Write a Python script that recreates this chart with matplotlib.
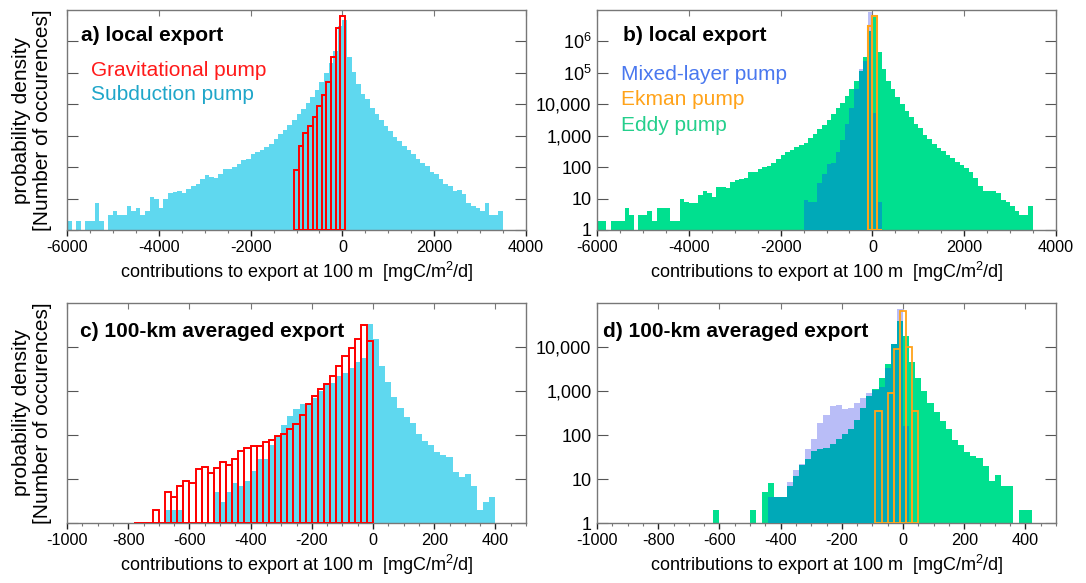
import numpy as np
import matplotlib.pyplot as plt
from matplotlib.ticker import MultipleLocator, FixedLocator, NullFormatter, NullLocator

plt.rcParams['font.family'] = ['Liberation Sans', 'DejaVu Sans']
plt.rcParams['mathtext.fontset'] = 'custom'
plt.rcParams['mathtext.rm'] = 'Liberation Sans'
plt.rcParams['mathtext.it'] = 'Liberation Sans:italic'
plt.rcParams['axes.unicode_minus'] = False

# ---- local export, 100 mgC/m2/d bins ----
local_start = -6000
local_bin = 100
subduction_local = [2, 1, 2, 1, 2, 2, 7, 2, 1, 3,
                    4, 3, 3, 6, 4, 5, 3, 4, 11, 10,
                    5, 10, 15, 16, 17, 15, 20, 26, 30, 41,
                    55, 48, 45, 62, 89, 89, 100, 130, 165, 178,
                    270, 300, 345, 440, 560, 800, 1170, 1500, 2170, 3160,
                    4800, 7100, 10700, 17000, 29000, 52000, 100000, 210000, 500000, 3000000,
                    4700000, 330000, 105000, 45000, 22000, 14500, 7800, 4900, 3160, 2000,
                    1440, 920, 690, 475, 345, 270, 186, 140, 108, 70,
                    62, 43, 30, 26, 18, 19, 14, 7, 6, 5,
                    4, 7, 3, 3, 4]
grav_local_start = -1050
gravitational_local = [79, 470, 1260, 2000, 3800, 9000, 20000, 53000, 310000, 2600000, 6300000]

eddy_local = [2, 2, 1, 2, 2, 2, 5, 3, 1, 3,
              3, 4, 2, 5, 5, 5, 2, 2, 10, 8,
              7, 7, 13, 18, 15, 11, 23, 23, 22, 33,
              40, 43, 45, 68, 72, 90, 98, 105, 140, 185,
              240, 300, 360, 430, 500, 600, 850, 1150, 1600, 2170,
              3160, 4800, 7400, 11000, 18000, 30000, 55000, 116000, 330000, 2200000,
              6000000, 460000, 130000, 57000, 30000, 16600, 10000, 6300, 3800, 2340,
              1700, 1040, 810, 560, 420, 330, 250, 200, 150, 120,
              95, 70, 45, 25, 18, 17, 17, 15, 9, 8,
              6, 4, 3, 3, 6]
mixed_local_start = -1500
mixed_local = [9, 8, 8, 31, 59, 130, 140, 300, 720, 2340, 7400, 30000, 130000, 230000,
               8700000, 5400, 8]
ekman_local_start = -100
ekman_local = [3200000, 6300000, 1]

# ---- 100-km averaged export, 20 mgC/m2/d bins ----
avg_bin = 20
subduction_avg_start = -680
subduction_avg = [2, 2, 2, 1, 1, 1, 1, 1, 5, 3,
                  5, 8, 7, 9, 15, 28, 29, 58, 94, 165,
                  270, 390, 495, 540, 700, 1000, 1550, 1550, 2200, 2600,
                  3400, 4500, 5700, 33000, 15000, 3700, 1600, 740, 420, 260,
                  183, 108, 72, 59, 41, 36, 32, 14.5, 11, 13,
                  7, 2, 3, 4]
grav_avg_start = -780
gravitational_avg = [1, 1, 1, 2, 1, 5, 3.9, 6.8, 8.9, 8.1,
                     17, 18.5, 14, 18, 24, 21, 28, 43, 51, 56,
                     55, 69, 79, 94, 108, 138, 180, 285, 495, 770,
                     1100, 1470, 2200, 3700, 6300, 9600, 15000, 31000, 14000]

eddy_avg_start = -620
eddy_avg = [2, 1, 1, 1, 1, 1, 2, 1, 5, 8,
            4, 4, 7, 12, 21, 29, 43, 48, 51, 64,
            82, 108, 138, 225, 415, 790, 1100, 1950, 4200, 12000,
            39000, 18000, 4500, 1950, 990, 520, 330, 205, 138, 76,
            58, 41, 33, 30, 19.5, 9, 12.6, 7, 7, 1,
            2, 2]
mixed_avg_start = -440
mixed_avg = [4, 4, 4, 8.4, 16, 22, 48, 82, 190, 280,
             450, 490, 390, 415, 540, 700, 880, 1050, 1250, 3300,
             11500, 74000, 160]
ekman_avg_start = -90
ekman_avg = [350, 1, 880, 8900, 66000, 10000, 350]

CYAN = '#5fd8ef'
RED = '#ff0000'
GREEN = '#00e08f'
LAVENDER = '#b9bdf7'
TEAL = '#00a9b8'
ORANGE = '#ffa31a'


def edges(start, step, n):
    return start + step * np.arange(n + 1)


def style(ax, xlim, ylim, major, minor, yticks, ylabels):
    ax.set_yscale('log')
    ax.set_xlim(*xlim)
    ax.set_ylim(*ylim)
    ax.xaxis.set_major_locator(MultipleLocator(major))
    ax.xaxis.set_minor_locator(MultipleLocator(minor))
    ax.yaxis.set_major_locator(FixedLocator(yticks))
    ax.yaxis.set_minor_locator(NullLocator())
    if ylabels is None:
        ax.yaxis.set_major_formatter(NullFormatter())
    else:
        ax.set_yticklabels(ylabels)
    ax.yaxis.set_minor_formatter(NullFormatter())
    ax.tick_params(axis='y', which='major', direction='in', length=8, width=0.8,
                   left=True, right=True, color='#555555', labelsize=13, pad=4)
    ax.tick_params(axis='x', which='major', direction='out', length=4, width=1,
                   color='#222222', labelsize=11.7, pad=3)
    ax.tick_params(axis='x', which='minor', direction='out', length=2, width=0.8,
                   color='#777777')
    top = ax.secondary_xaxis('top')
    top.xaxis.set_major_locator(MultipleLocator(major))
    top.tick_params(axis='x', direction='in', length=4, color='#777777', labeltop=False)
    top.spines['top'].set_visible(False)
    for s in ax.spines.values():
        s.set_color('#777777')
        s.set_linewidth(1.0)
    ax.set_xlabel('contributions to export at 100 m  [mgC/m$^2$/d]', fontsize=13, labelpad=4)


def outline_bars(ax, start, step, vals, color, lw):
    v = np.asarray(vals, dtype=float)
    x = start + step * np.arange(len(v))
    ax.bar(x, v - 1, width=step, bottom=1, align='edge', fill=False,
           edgecolor=color, linewidth=lw, zorder=4)


def layered(ax, g_start, g_vals, m_start, m_vals, step):
    g = np.asarray(g_vals, dtype=float)
    m = np.asarray(m_vals, dtype=float)
    ax.stairs(m, edges(m_start, step, len(m)), baseline=1, fill=True, color=LAVENDER, zorder=1)
    ax.stairs(g, edges(g_start, step, len(g)), baseline=1, fill=True, color=GREEN, zorder=2)
    off = int(round((m_start - g_start) / step))
    both = np.minimum(m, g[off:off + len(m)])
    ax.stairs(both, edges(m_start, step, len(m)), baseline=1, fill=True, color=TEAL, zorder=3)


fig = plt.figure(figsize=(10.86, 5.83), dpi=100)
W, H = 1086, 583


def add(l, t, r, b):
    return fig.add_axes([l / W, 1 - b / H, (r - l) / W, (b - t) / H])


ax_a = add(67, 10, 526, 230)
ax_b = add(597, 10, 1056, 230)
ax_c = add(67, 303, 526, 523)
ax_d = add(597, 303, 1056, 523)

local_ticks = [1, 10, 100, 1e3, 1e4, 1e5, 1e6]
local_labels = ['1', '10', '100', '1,000', '10,000', r'$\mathregular{10^5}$', r'$\mathregular{10^6}$']
avg_ticks = [1, 10, 100, 1e3, 1e4]
avg_labels = ['1', '10', '100', '1,000', '10,000']
ylab = 'probability density\n[Number of occurences]'

# a) local export: gravitational vs subduction
sub = np.asarray(subduction_local, dtype=float)
ax_a.stairs(sub, edges(local_start, local_bin, len(sub)), baseline=1, fill=True, color=CYAN, zorder=1)
outline_bars(ax_a, grav_local_start, local_bin, gravitational_local, RED, 1.4)
style(ax_a, (-6000, 4000), (1, 1e7), 2000, 500, local_ticks, None)
ax_a.set_ylabel(ylab, fontsize=15, labelpad=7, linespacing=1.1)
ax_a.text(0.031, 0.886, 'a) local export', transform=ax_a.transAxes, fontsize=15,
          fontweight='bold', va='center', zorder=6)
ax_a.text(0.052, 0.727, 'Gravitational pump', transform=ax_a.transAxes, fontsize=15,
          color='#ff1a1a', va='center', zorder=6)
ax_a.text(0.052, 0.614, 'Subduction pump', transform=ax_a.transAxes, fontsize=15,
          color='#1fa6c9', va='center', zorder=6)

# b) local export: mixed-layer, Ekman, eddy
layered(ax_b, local_start, eddy_local, mixed_local_start, mixed_local, local_bin)
outline_bars(ax_b, ekman_local_start, local_bin, ekman_local, ORANGE, 1.5)
style(ax_b, (-6000, 4000), (1, 1e7), 2000, 500, local_ticks, local_labels)
ax_b.text(0.057, 0.886, 'b) local export', transform=ax_b.transAxes, fontsize=15,
          fontweight='bold', va='center', zorder=6)
ax_b.text(0.052, 0.709, 'Mixed-layer pump', transform=ax_b.transAxes, fontsize=15,
          color='#4a78ef', va='center', zorder=6)
ax_b.text(0.052, 0.591, 'Ekman pump', transform=ax_b.transAxes, fontsize=15,
          color='#ffa31a', va='center', zorder=6)
ax_b.text(0.052, 0.477, 'Eddy pump', transform=ax_b.transAxes, fontsize=15,
          color='#24cf8c', va='center', zorder=6)

# c) 100-km averaged: gravitational vs subduction
suba = np.asarray(subduction_avg, dtype=float)
ax_c.stairs(suba, edges(subduction_avg_start, avg_bin, len(suba)), baseline=1, fill=True,
            color=CYAN, zorder=1)
outline_bars(ax_c, grav_avg_start, avg_bin, gravitational_avg, RED, 1.4)
style(ax_c, (-1000, 500), (1, 1e5), 200, 50, avg_ticks, None)
ax_c.set_ylabel(ylab, fontsize=15, labelpad=7, linespacing=1.1)
ax_c.text(0.029, 0.87, 'c) 100-km averaged export', transform=ax_c.transAxes, fontsize=15,
          fontweight='bold', va='center', zorder=6)

# d) 100-km averaged: mixed-layer, Ekman, eddy
layered(ax_d, eddy_avg_start, eddy_avg, mixed_avg_start, mixed_avg, avg_bin)
outline_bars(ax_d, ekman_avg_start, avg_bin, ekman_avg, ORANGE, 1.3)
style(ax_d, (-1000, 500), (1, 1e5), 200, 50, avg_ticks, avg_labels)
ax_d.text(0.012, 0.87, 'd) 100-km averaged export', transform=ax_d.transAxes, fontsize=15,
          fontweight='bold', va='center', zorder=6)

fig.savefig('out.png', dpi=100)
